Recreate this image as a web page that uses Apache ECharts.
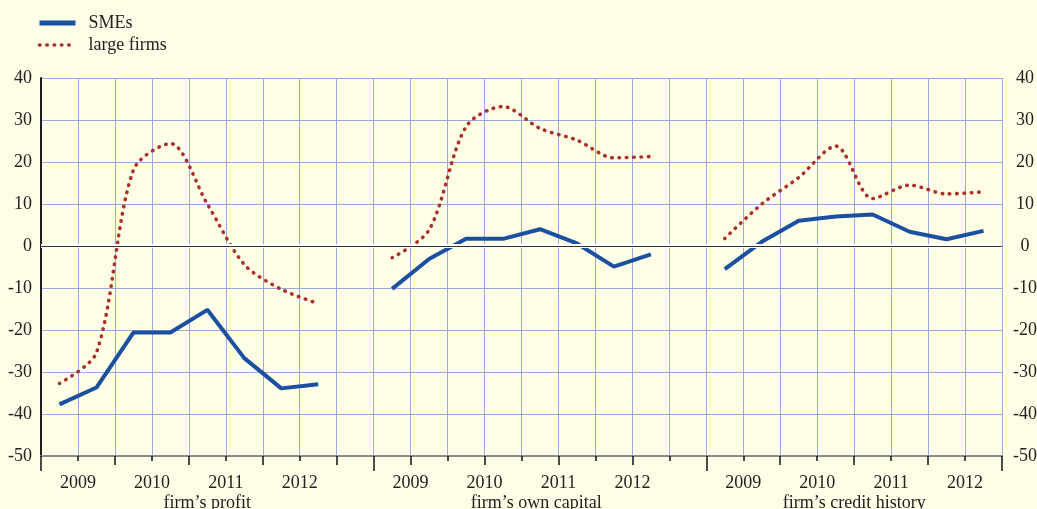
<!DOCTYPE html>
<html lang="en">
<head>
    <meta charset="UTF-8">
    <title>SMEs vs large firms</title>
    <script src="https://cdnjs.cloudflare.com/ajax/libs/echarts/6.0.0/echarts.min.js"></script>
    <style>
        html, body {margin: 0; padding: 0; background: #fefde6;}
    </style>
</head>
<body>
<div id="chart" style="width: 1037px; height: 509px;"></div>

<script>
    // half-year readings 2009H1..2012H2 for each panel
    var smeProfit = [-37.7, -33.7, -20.6, -20.6, -15.2, -26.7, -33.9, -32.9];
    var smeCapital = [-10.2, -3.1, 1.7, 1.7, 4.0, 0.6, -4.9, -2.0];
    var smeCredit = [-5.5, 1.0, 6.0, 7.0, 7.5, 3.4, 1.6, 3.6];
    var largeProfit = [-32.7, -25.4, 18.1, 24.4, 10.0, -4.4, -10.3, -13.7];
    var largeCapital = [-2.8, 3.8, 28.4, 33.2, 28.0, 25.2, 21.0, 21.3];
    var largeCredit = [1.8, 10.0, 16.3, 23.8, 11.3, 14.5, 12.4, 12.9];

    var years = ['2009', '2010', '2011', '2012'];
    var panelNames = ['firm\u2019s profit', 'firm\u2019s own capital', 'firm\u2019s credit history'];
    var panelStart = [0, 9, 18];   // slot where each panel begins on the x scale
    var slotCount = 26;

    var font = "'Liberation Serif', 'Times New Roman', serif";
    var blue = '#1b4fa0';
    var red = '#a9322d';
    var gridColor = '#9ba7e3';
    var dots = [0.5, 6.8];

    function toPoints(values, start) {
        return values.map(function (v, i) {
            return [start + i + 0.5, v];
        });
    }

    // year labels sit on the boundary between H1 and H2
    var yearTicks = [];
    var yearText = {};
    panelStart.forEach(function (s) {
        years.forEach(function (y, i) {
            yearTicks.push(s + i * 2 + 1);
            yearText[s + i * 2 + 1] = y;
        });
    });
    var evenTicks = [];
    for (var k = 0; k <= slotCount; k += 2) evenTicks.push(k);
    var panelCenters = [4.5, 13.4, 22];

    var chart = echarts.init(document.getElementById('chart'));

    var lineSme = {type: 'line', name: 'SMEs', symbol: 'none', z: 4,
        lineStyle: {color: blue, width: 4}, itemStyle: {color: blue}};
    var lineLarge = {type: 'line', name: 'large firms', symbol: 'none', smooth: 0.3, z: 3,
        lineStyle: {color: red, width: 3.6, type: dots, cap: 'round'}, itemStyle: {color: red}};

    var series = [];
    [smeProfit, smeCapital, smeCredit].forEach(function (d, i) {
        series.push(Object.assign({}, lineSme, {data: toPoints(d, panelStart[i])}));
    });
    [largeProfit, largeCapital, largeCredit].forEach(function (d, i) {
        series.push(Object.assign({}, lineLarge, {data: toPoints(d, panelStart[i])}));
    });
    // zero line: white band under a thin black rule
    series.push({type: 'line', data: [], silent: true, z: 2,
        markLine: {symbol: 'none', silent: true, label: {show: false},
            lineStyle: {color: '#ffffff', width: 4, type: 'solid'}, data: [{yAxis: 0}]}});
    series.push({type: 'line', data: [], silent: true, z: 2,
        markLine: {symbol: 'none', silent: true, label: {show: false},
            lineStyle: {color: '#333333', width: 1, type: 'solid'}, data: [{yAxis: 0}]}});

    var option = {
        backgroundColor: '#fefde6',
        animation: false,
        textStyle: {fontFamily: font},
        legend: {
            orient: 'vertical', left: 32, top: 9,
            itemWidth: 36, itemHeight: 14, itemGap: 4,
            data: [
                {name: 'SMEs', lineStyle: {width: 5, color: blue, type: 'solid'}},
                {name: 'large firms', lineStyle: {width: 3.6, color: red, type: dots, cap: 'round'}}
            ],
            itemStyle: {opacity: 0},
            textStyle: {fontFamily: font, fontSize: 18, color: '#222', padding: [0, 0, 0, 8]}
        },
        grid: {left: 41, right: 35, top: 78, bottom: 53, outerBoundsMode: 'none'},
        xAxis: [
            {
                type: 'value', min: 0, max: slotCount, interval: 1,
                axisLine: {show: true, onZero: false, lineStyle: {color: '#8a8a8a', width: 2}},
                axisTick: {show: true, length: 5, lineStyle: {color: '#111', width: 1.5}},
                splitLine: {show: true, lineStyle: {color: gridColor, width: 1}},
                axisLabel: {
                    customValues: yearTicks, margin: 18,
                    fontFamily: font, fontSize: 18, color: '#222',
                    formatter: function (v) { return yearText[v] || ''; }
                }
            },
            {
                type: 'value', min: 0, max: slotCount, position: 'bottom',
                axisLine: {show: false, onZero: false},
                axisTick: {show: true, customValues: evenTicks, length: 9, lineStyle: {color: '#111', width: 1.5}},
                splitLine: {show: false},
                axisLabel: {show: false}
            },
            {
                type: 'value', min: 0, max: slotCount, position: 'bottom',
                axisLine: {show: false, onZero: false},
                axisTick: {show: true, customValues: panelStart.concat([slotCount]), length: 15, lineStyle: {color: '#111', width: 1.5}},
                splitLine: {show: false},
                axisLabel: {
                    customValues: panelCenters, margin: 38,
                    fontFamily: font, fontSize: 18, color: '#222',
                    formatter: function (v) { return panelNames[panelCenters.indexOf(v)]; }
                }
            }
        ],
        yAxis: [
            {
                type: 'value', min: -50, max: 40, interval: 10,
                axisLine: {show: true, lineStyle: {color: '#111', width: 1.5}},
                axisTick: {show: false},
                splitLine: {show: true, lineStyle: {color: gridColor, width: 1}},
                axisLabel: {margin: 9, fontFamily: font, fontSize: 18, color: '#222'}
            },
            {
                type: 'value', min: -50, max: 40, interval: 10, position: 'right',
                axisLine: {show: true, lineStyle: {color: '#111', width: 1.5}},
                axisTick: {show: false},
                splitLine: {show: false},
                axisLabel: {margin: 23, align: 'center', fontFamily: font, fontSize: 18, color: '#222'}
            }
        ],
        series: series
    };

    chart.setOption(option);
</script>
</body>
</html>
